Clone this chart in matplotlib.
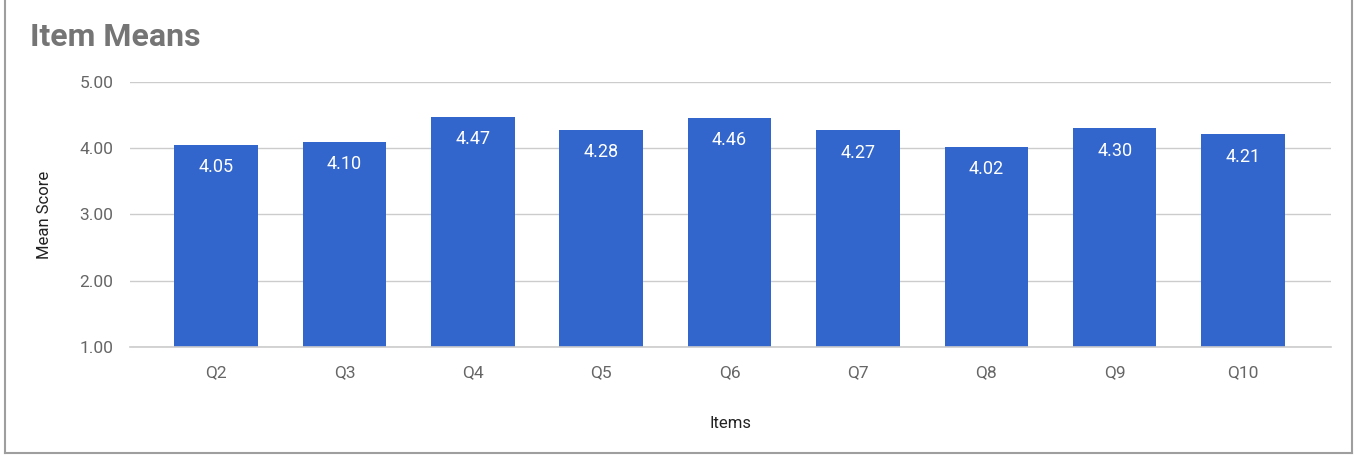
import matplotlib
matplotlib.use("Agg")
import matplotlib.pyplot as plt
from matplotlib.lines import Line2D

# === DATA ===
items = ["Q2", "Q3", "Q4", "Q5", "Q6", "Q7", "Q8", "Q9", "Q10"]
means = [4.05, 4.10, 4.47, 4.28, 4.46, 4.27, 4.02, 4.30, 4.21]
yticks = [1.0, 2.0, 3.0, 4.0, 5.0]

BLUE = "#3366CC"
plt.rcParams["font.family"] = ["Roboto", "DejaVu Sans"]

fig = plt.figure(figsize=(13.56, 4.55), dpi=100)
ax = fig.add_axes([0.0959, 0.2374, 0.8857, 0.5824])

x = range(len(items))
bars = ax.bar(x, means, width=0.65, color=BLUE, zorder=3)

for b, v in zip(bars, means):
    ax.annotate(f"{v:.2f}", (b.get_x() + b.get_width() / 2, v),
                xytext=(0, -9.5), textcoords="offset points",
                ha="center", va="top", color="white", fontsize=13, zorder=4)

ax.set_ylim(1, 5)
ax.set_xlim(-0.67, len(items) - 1 + 0.685)
ax.set_yticks(yticks)
ax.set_yticklabels([f"{t:.2f}" for t in yticks])
ax.set_xticks(list(x))
ax.set_xticklabels(items)
ax.tick_params(length=0, labelsize=12.5, colors="#666666")
ax.tick_params(axis="x", pad=13)
ax.tick_params(axis="y", pad=12)
ax.grid(axis="y", color="#cccccc", lw=1, zorder=0)
ax.axhline(1, color="#cccccc", lw=1.2, zorder=5, clip_on=False)
for s in ax.spines.values():
    s.set_visible(False)

ax.set_ylabel("Mean Score", fontsize=12, color="#222222", labelpad=20)
ax.set_xlabel("Items", fontsize=12, color="#222222", labelpad=26)

fig.text(0.022, 0.918, "Item Means", fontsize=23, fontweight="bold",
         color="#757575", ha="left", va="center")

# outer frame (left, right, bottom)
fc = "#9e9e9e"
fig.add_artist(Line2D([0.0040, 0.0040], [0.004, 1.0], color=fc, lw=1.5, transform=fig.transFigure))
fig.add_artist(Line2D([0.9971, 0.9971], [0.004, 1.0], color=fc, lw=1.5, transform=fig.transFigure))
fig.add_artist(Line2D([0.0040, 0.9971], [0.004, 0.004], color=fc, lw=1.5, transform=fig.transFigure))

fig.savefig("out.png", dpi=100)
